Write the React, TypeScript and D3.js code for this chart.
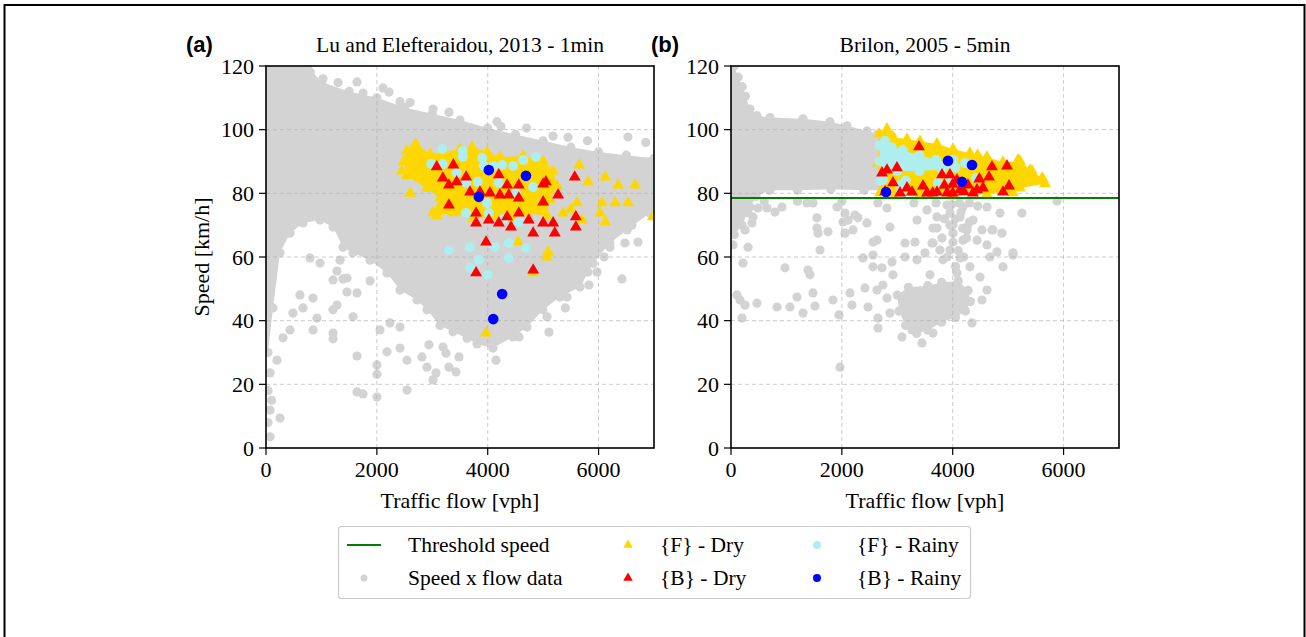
import React from 'react';
import * as d3 from 'd3';

type P = [number, number];

// ---------- axes / labels ----------
const xTicks = [0, 2000, 4000, 6000];
const yTicks = [0, 20, 40, 60, 80, 100, 120];
const flowDomain: P = [0, 7000];
const speedDomain: P = [0, 120];
const panelLetters = ['(a)', '(b)'];
const panelTitles = ['Lu and Elefteraidou, 2013 - 1min', 'Brilon, 2005 - 5min'];
const xLabel = 'Traffic flow [vph]';
const yLabel = 'Speed [km/h]';
const thresholdSpeedB = 78.5;
const legendLabels = ['Threshold speed', 'Speed x flow data', '{F} - Dry', '{B} - Dry', '{F} - Rainy', '{B} - Rainy'];

// ---------- panel (a) data: (flow vph, speed km/h) ----------
const aGrayDense: P[] = [
  [0, 120], [750, 120], [1000, 115], [1500, 112], [2000, 110], [2500, 107], [3000, 105], [3500, 103],
  [4000, 100.5], [4500, 98.5], [5000, 96.5], [5500, 94.5], [6000, 93], [6500, 92], [7000, 91],
  [7000, 75], [6928, 73.8], [6513, 68.5], [6206, 64.4], [5900, 58], [5665, 50.6], [5304, 47.4],
  [4997, 43.4], [4709, 38], [4456, 34.9], [4095, 31.4], [3807, 32.7], [3626, 34.5], [3374, 36.5],
  [3139, 38.5], [2904, 43.4], [2724, 46.5], [2417, 49.6], [2183, 55], [1876, 59], [1570, 61.3],
  [1389, 63.1], [1209, 69.4], [974, 71.6], [668, 70.7], [433, 67.5], [253, 61.3], [126, 44],
  [36, 30], [0, 30],
];
const aGrayDots: P[] = [
  [1028, 116], [1642, 115], [1750, 111.5], [2111, 113.1], [2219, 111.8], [2417, 108.8], [3013, 106.5],
  [4167, 102.5], [4240, 101], [5178, 98], [5448, 97.6], [5800, 96.5], [6531, 97.7], [6850, 96],
  [6950, 90], [6700, 86], [6950, 81], [6800, 78], [6550, 73], [6900, 76.5], [800, 118], [1300, 114.8],
  [2600, 108.5], [3300, 105.5], [4700, 100.5],
  [794, 59.7], [974, 58.1], [1335, 59], [1281, 55.6], [1209, 52.8], [1389, 53.1], [1461, 53.4],
  [613, 48.1], [848, 47.1], [668, 44], [487, 42.4], [920, 40.8], [433, 37.1], [848, 37.1],
  [1209, 36.1], [1209, 34.3], [307, 34.6], [198, 27.6], [253, 9.4], [1642, 28.9], [1642, 17.6],
  [1750, 17], [2002, 26.1], [2002, 23.2], [2002, 16], [1570, 41.2], [1642, 48.7], [1461, 49],
  [1281, 44.9], [1209, 43.4], [1876, 52.5], [2183, 30.2], [2417, 31.4], [2544, 27.6], [2544, 18.2],
  [2057, 37.1], [2237, 39.3], [2417, 38], [72, 11.9], [72, 3.5], [72, 23.6], [36, 18], [36, 8], [100, 15],
  [2814, 28.6], [2904, 25.4], [3013, 21.4], [3067, 23.6], [3193, 31.7], [3301, 25.4], [3428, 23.9],
  [3247, 29.8], [3482, 28.6], [2940, 32.4], [4149, 27.6], [4564, 34.9], [5105, 36.4],
  [5647, 52.8], [5809, 55.3], [5971, 55.3], [5827, 51.2], [6206, 63.1], [6422, 53.1], [6476, 64.4],
  [6711, 64.7], [5845, 61.3], [5593, 56.9], [5430, 47.4], [5304, 51.8], [5070, 41.2], [5900, 68.5],
  [6188, 71], [6600, 70], [5809, 58.1], [6100, 60], [5400, 44],
];
const aFDryCore: P[] = [
  [2540, 93.3], [2700, 95.5], [2960, 92.3], [3190, 92.9], [3500, 93.9], [3720, 94.5], [3990, 92.9],
  [4220, 91.4], [4640, 91.7], [5000, 90.1], [5180, 87], [5250, 82.3], [5120, 78], [5070, 72.9],
  [4710, 73.9], [4460, 72], [4100, 72.9], [3730, 72], [3370, 73.9], [3080, 72.9], [3010, 73.9],
  [3140, 78.5], [2900, 81.5], [2540, 85.6], [2490, 90],
];
const aFDry: P[] = [
  [5650, 88.9], [5810, 83.6], [6120, 85.1], [6350, 82.6], [6660, 82.6], [6060, 77], [6300, 77],
  [6530, 77], [5610, 77], [5700, 71.6], [6120, 71], [5360, 73.8], [6980, 72.6], [5500, 75],
  [4550, 64.7], [5090, 61.6], [5070, 60], [4820, 55], [3970, 36.1], [6030, 73.8], [2450, 87], [2600, 80],
];
const aBDry: P[] = [
  [3380, 88.9], [3190, 84.8], [3300, 82.6], [3440, 83.6], [3080, 88.3], [3610, 85.1], [3680, 80.4],
  [3860, 80.4], [4040, 80.1], [4200, 85.8], [4350, 82.6], [4220, 79.5], [4380, 79.5], [4560, 82.6],
  [4560, 78.5], [5000, 82.9], [5050, 83.6], [5000, 77.3], [5270, 79.5], [5570, 85.1], [3300, 76.3],
  [3790, 73.8], [3790, 70.7], [4020, 71.6], [4200, 70.7], [4350, 72.6], [4420, 69.4], [4560, 73.8],
  [4740, 71.6], [4820, 67.5], [5000, 70.7], [5180, 70.7], [5210, 67.5], [5590, 72.6], [5590, 69.4],
  [3970, 64.7], [3790, 55], [4820, 55.9],
];
const aFRainy: P[] = [
  [3180, 93.9], [3550, 93.3], [3550, 91.5], [3900, 91.1], [2980, 89.2], [3190, 89.2], [3440, 86.4],
  [3610, 83.3], [3820, 83.6], [3930, 88.6], [4100, 88.6], [4260, 88.9], [4460, 88.6], [4640, 90.5],
  [4870, 91.4], [4820, 82], [4510, 80.1], [4200, 83.3], [3990, 77], [4020, 73.8], [3610, 73.8],
  [4280, 71.9], [4560, 71], [3300, 62.2], [3680, 63.1], [4130, 63.1], [4380, 64.4], [4690, 62.8],
  [3840, 59.1], [3680, 56.6], [4000, 54.4], [4380, 59.7],
];
const aBRainy: P[] = [[4020, 87.3], [4690, 85.5], [3840, 78.9], [4260, 48.4], [4100, 40.5]];

// ---------- panel (b) data ----------
const bGrayDense: P[] = [
  [0, 120], [60, 120], [130, 116.5], [200, 113.5], [260, 110.5], [343, 106.5], [469, 104.4], [704, 103.8],
  [1299, 103.4], [1786, 102.5], [2093, 101.2], [2453, 99.6], [2652, 98.7], [2900, 98], [2900, 81],
  [2400, 81], [1800, 81.3], [1200, 81], [700, 81], [450, 79], [300, 74], [200, 70], [60, 67], [0, 67],
];
const bGrayBlob: P[] = [
  [3000, 48], [3200, 50.5], [3550, 51], [3800, 52], [4100, 52.5], [4280, 49.5], [4320, 46],
  [4230, 43], [4050, 41], [3800, 39.5], [3550, 37], [3350, 36], [3150, 38.5], [3030, 43],
];
const bGrayDots: P[] = [
  [343, 75.7], [487, 75.4], [649, 75.4], [794, 74.1], [920, 75.7], [397, 72.6], [379, 70.7],
  [253, 68.5], [1551, 72.3], [1551, 69.1], [1570, 67.5], [1750, 67.9], [1371, 77], [1480, 77],
  [1912, 75.7], [2057, 73.8], [2111, 71.6], [2201, 68.5], [2291, 72.3], [2453, 70.7], [2634, 65.3],
  [1606, 62.2], [2814, 75.4], [2868, 69.4], [3139, 64.4], [3355, 71.6], [3536, 74.8], [3644, 69.1],
  [3716, 72.6], [3897, 76.3], [3951, 73.8], [4005, 70.1], [4131, 72.6], [4185, 75.7], [4257, 68.5],
  [4366, 71.6], [4528, 68.5], [4618, 75.7], [4726, 68.5], [4853, 73.8], [5250, 73.8], [5881, 77.6],
  [4005, 64.7], [4618, 63.8], [3644, 64.4], [3770, 62.2], [5087, 61.3], [3139, 60],
  [36, 63.8], [216, 58.1], [307, 63.1], [108, 48.1], [162, 46.5], [253, 44.9], [198, 40.8],
  [469, 45.5], [830, 44.3], [974, 56.6], [1064, 44.3], [1191, 47.4], [1299, 42.4], [1389, 55.9],
  [1425, 54.4], [1479, 48.7], [1515, 44.6], [1840, 46.5], [1948, 41.8], [1966, 25.4], [2020, 71],
  [2057, 67.5], [2147, 48.7], [2183, 44.9], [2237, 73.2], [2381, 59.7], [2417, 50.3], [2471, 44.3],
  [2562, 64.7], [2562, 60.6], [2562, 56.9], [2634, 49.6], [2652, 40.8], [2652, 37.7], [2742, 51.2],
  [2814, 47.1], [2868, 42.4], [2904, 58.4], [2724, 56.6], [2922, 54.4], [3085, 34.9], [3175, 43.4],
  [3265, 37.1], [3355, 59.1], [3446, 33], [3319, 64.7], [3500, 61.3], [3590, 54.4], [3626, 64.4],
  [3644, 36.1], [3716, 69.1], [3806, 66], [3824, 59.1], [3951, 62.2], [4005, 67.5], [4077, 55],
  [4131, 59.7], [4185, 65.3], [4221, 46.5], [4257, 69.4], [4311, 56.9], [4348, 39.3], [4438, 65.3],
  [4492, 53.7], [4528, 46.5], [4618, 49.6], [4672, 60], [4708, 68.5], [4799, 61.6], [4889, 67.5],
  [4907, 56.9], [5087, 60.6], [3950, 70], [4050, 72], [4150, 74], [4100, 62], [4200, 60], [4050, 57],
  [3900, 60], [4250, 66], [4300, 71], [3850, 72], [4180, 69], [4120, 77], [3980, 76.5], [4300, 77],
  [4450, 76], [3700, 77], [3300, 77], [2650, 77], [2000, 77.5], [1200, 77.5], [600, 77.5],
];
const bFDryCore: P[] = [
  [2670, 98.6], [2814, 100.2], [2922, 97.7], [3175, 97], [3409, 96.4], [3716, 95.5], [4005, 93.9],
  [4311, 92.6], [4618, 91.4], [4907, 89.8], [5214, 90.1], [5430, 87], [5628, 84.5], [5665, 83],
  [5214, 81.7], [5087, 80.2], [4618, 79.8], [4005, 79.2], [3409, 79.2], [2922, 79.2], [2688, 80.2],
  [2652, 89.5],
];
const bFDry: P[] = [[5611, 84.8], [5394, 87.3], [5178, 90.5], [4907, 89], [4450, 92]];
const bFRainyCore: P[] = [
  [2680, 95], [2780, 96.5], [2900, 94.5], [3100, 93.5], [3400, 92], [3700, 90.5], [4000, 89.5],
  [4050, 88], [3800, 87.5], [3400, 87], [3000, 87], [2750, 86.5], [2680, 90],
];
const bFRainy: P[] = [
  [2742, 84.2], [3049, 82.6], [3070, 80.5], [3734, 83.3], [3951, 84.8], [4221, 89.5], [4420, 84.8],
  [4005, 90.5], [2700, 84], [3150, 84],
];
const bBDry: P[] = [
  [3391, 94.6], [2724, 86.4], [2994, 88], [2922, 83.3], [3175, 81.7], [3464, 82.3], [3265, 80.4],
  [3716, 80.4], [3806, 85.8], [3951, 85.8], [4077, 84.2], [4131, 81.1], [4275, 82.6], [4438, 81.1],
  [4546, 81.7], [4654, 85.1], [4708, 88.3], [4979, 88.6], [5015, 82.3], [4907, 80.4], [3049, 80.1],
  [3536, 80.1], [3640, 80.1], [3897, 80.1], [4000, 80.1], [4366, 80.1], [2814, 87.3], [3850, 82.5],
  [4000, 82.8], [4200, 80.5], [4480, 84.5], [2780, 80.5],
];
const bBRainy: P[] = [[2796, 80.4], [3915, 90.2], [4348, 88.9], [4167, 83.6]];

// ---------- colours ----------
const C = {
  gray: '#d3d3d3', gold: '#ffd700', red: '#ff0000', cyan: '#afeeee', blue: '#0000ff', green: '#008000',
};

const SERIF = '"Liberation Serif", "Times New Roman", serif';
const SANS = '"Liberation Sans", Arial, sans-serif';
const FS = 22;

const tri = d3.symbol().type(d3.symbolTriangle).size(62)() as string;
const triLegend = d3.symbol().type(d3.symbolTriangle).size(40)() as string;

type PanelProps = {
  idx: number; left: number; right: number;
  dense: P[]; blob?: P[]; dots: P[];
  yCore: P[]; yPts: P[]; cCore?: P[]; cPts: P[]; rPts: P[]; bPts: P[];
  threshold?: number;
};

function Panel(p: PanelProps) {
  const top = 66, bottom = 448;
  const x = d3.scaleLinear().domain(flowDomain).range([p.left, p.right]);
  const y = d3.scaleLinear().domain(speedDomain).range([bottom, top]);
  const line = d3.line<P>().x(d => x(d[0])).y(d => y(d[1])).curve(d3.curveLinearClosed);
  const clip = `clip${p.idx}`;
  const cx = (p.left + p.right) / 2;
  return (
    <g>
      <defs>
        <clipPath id={clip}><rect x={p.left} y={top} width={p.right - p.left} height={bottom - top} /></clipPath>
      </defs>
      <g clipPath={`url(#${clip})`}>
        <path d={line(p.dense) as string} fill={C.gray} />
        {p.dense.map((d, i) => <circle key={'dv' + i} cx={x(d[0])} cy={y(d[1])} r={4.6} fill={C.gray} />)}
        {p.blob && <path d={line(p.blob) as string} fill={C.gray} />}
        {p.blob && p.blob.map((d, i) => <circle key={'bv' + i} cx={x(d[0])} cy={y(d[1])} r={4.6} fill={C.gray} />)}
        {p.dots.map((d, i) => <circle key={'gd' + i} cx={x(d[0])} cy={y(d[1])} r={4.6} fill={C.gray} />)}
        {xTicks.filter(t => t > 0).map(t => (
          <line key={'gx' + t} x1={x(t)} x2={x(t)} y1={top} y2={bottom} stroke="#b0b0b0" strokeWidth={0.8} strokeDasharray="4,3" opacity={0.8} />
        ))}
        {yTicks.filter(t => t > 0 && t < 120).map(t => (
          <line key={'gy' + t} x1={p.left} x2={p.right} y1={y(t)} y2={y(t)} stroke="#b0b0b0" strokeWidth={0.8} strokeDasharray="4,3" opacity={0.8} />
        ))}
        <path d={line(p.yCore) as string} fill={C.gold} />
        {p.yCore.map((d, i) => <path key={'yc' + i} d={tri} transform={`translate(${x(d[0])},${y(d[1])})`} fill={C.gold} />)}
        {p.yPts.map((d, i) => <path key={'yp' + i} d={tri} transform={`translate(${x(d[0])},${y(d[1])})`} fill={C.gold} />)}
        {p.cCore && <path d={line(p.cCore) as string} fill={C.cyan} />}
        {p.cCore && p.cCore.map((d, i) => <circle key={'cc' + i} cx={x(d[0])} cy={y(d[1])} r={5} fill={C.cyan} />)}
        {p.cPts.map((d, i) => <circle key={'cp' + i} cx={x(d[0])} cy={y(d[1])} r={5} fill={C.cyan} />)}
        {p.rPts.map((d, i) => <path key={'rp' + i} d={tri} transform={`translate(${x(d[0])},${y(d[1])})`} fill={C.red} />)}
        {p.bPts.map((d, i) => <circle key={'bp' + i} cx={x(d[0])} cy={y(d[1])} r={5.3} fill={C.blue} />)}
        {p.threshold !== undefined && (
          <line x1={p.left} x2={p.right} y1={y(p.threshold)} y2={y(p.threshold)} stroke={C.green} strokeWidth={2} />
        )}
      </g>
      <rect x={p.left} y={top} width={p.right - p.left} height={bottom - top} fill="none" stroke="#000" strokeWidth={1.6} />
      {xTicks.map(t => (
        <g key={'xt' + t}>
          <line x1={x(t)} x2={x(t)} y1={bottom} y2={bottom + 7} stroke="#000" strokeWidth={1.2} />
          <text x={x(t)} y={bottom + 29} textAnchor="middle" fontFamily={SERIF} fontSize={FS}>{t}</text>
        </g>
      ))}
      {yTicks.map(t => (
        <g key={'yt' + t}>
          <line x1={p.left - 7} x2={p.left} y1={y(t)} y2={y(t)} stroke="#000" strokeWidth={1.2} />
          <text x={p.left - 12} y={y(t) + 7.5} textAnchor="end" fontFamily={SERIF} fontSize={FS}>{t}</text>
        </g>
      ))}
      <text x={cx} y={508} textAnchor="middle" fontFamily={SERIF} fontSize={FS}>{xLabel}</text>
      <text x={cx} y={52} textAnchor="middle" fontFamily={SERIF} fontSize={FS - 0.5}>{panelTitles[p.idx]}</text>
      <text x={p.left - 80} y={52} fontFamily={SANS} fontWeight="bold" fontSize={22}>{panelLetters[p.idx]}</text>
    </g>
  );
}

function Legend() {
  const lx = 338.5, ly = 526.5, lw = 632, lh = 72;
  const r1 = 545, r2 = 578;
  const tStyle = { fontFamily: SERIF, fontSize: FS - 0.5 } as const;
  return (
    <g>
      <rect x={lx} y={ly} width={lw} height={lh} rx={3} fill="#fff" stroke="#cccccc" strokeWidth={1.2} />
      <line x1={347} x2={381} y1={r1} y2={r1} stroke={C.green} strokeWidth={2} />
      <text x={408} y={r1 + 7} {...tStyle}>{legendLabels[0]}</text>
      <circle cx={364} cy={r2} r={3.5} fill={C.gray} />
      <text x={408} y={r2 + 7} {...tStyle}>{legendLabels[1]}</text>
      <path d={triLegend} transform={`translate(628,${r1})`} fill={C.gold} />
      <text x={660} y={r1 + 7} {...tStyle}>{legendLabels[2]}</text>
      <path d={triLegend} transform={`translate(628,${r2})`} fill={C.red} />
      <text x={660} y={r2 + 7} {...tStyle}>{legendLabels[3]}</text>
      <circle cx={817} cy={r1} r={4} fill={C.cyan} />
      <text x={857} y={r1 + 7} {...tStyle}>{legendLabels[4]}</text>
      <circle cx={817} cy={r2} r={4} fill={C.blue} />
      <text x={857} y={r2 + 7} {...tStyle}>{legendLabels[5]}</text>
    </g>
  );
}

export default function App() {
  return (
    <svg width={1306} height={637} style={{ position: 'absolute', left: 0, top: 0, background: '#fff' }}>
      <rect x={0} y={0} width={1306} height={637} fill="#fff" />
      <rect x={4.5} y={5} width={1300} height={700} fill="none" stroke="#000" strokeWidth={2} />
      <Panel idx={0} left={266} right={654} dense={aGrayDense} dots={aGrayDots}
        yCore={aFDryCore} yPts={aFDry} cPts={aFRainy} rPts={aBDry} bPts={aBRainy} />
      <Panel idx={1} left={731} right={1119} dense={bGrayDense} blob={bGrayBlob} dots={bGrayDots}
        yCore={bFDryCore} yPts={bFDry} cCore={bFRainyCore} cPts={bFRainy} rPts={bBDry} bPts={bBRainy}
        threshold={thresholdSpeedB} />
      <text transform="translate(209,257) rotate(-90)" textAnchor="middle" fontFamily={SERIF} fontSize={FS}>{yLabel}</text>
      <Legend />
    </svg>
  );
}
